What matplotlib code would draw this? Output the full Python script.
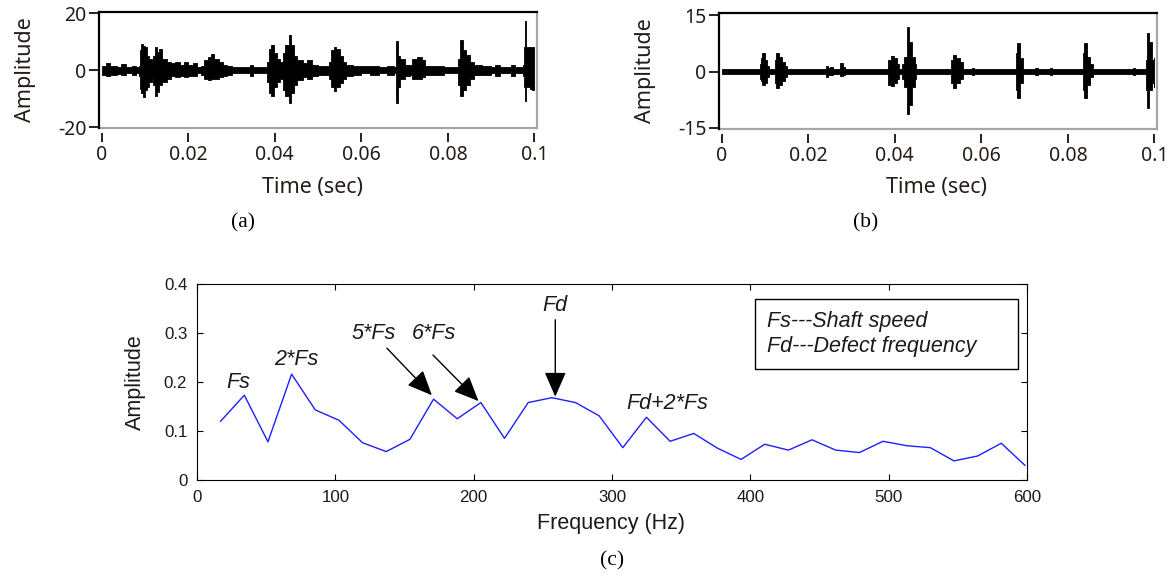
import matplotlib
matplotlib.use("Agg")
import matplotlib.pyplot as plt
from matplotlib.patches import Rectangle
from matplotlib.lines import Line2D

# ---------------- data ----------------
time_ticks = [0, 0.02, 0.04, 0.06, 0.08, 0.1]
time_ticklabels = ["0", "0.02", "0.04", "0.06", "0.08", "0.1"]

# (a) raw vibration signal: envelope (time, upper, lower)
wave_a_time = [0.0000, 0.0010, 0.0020, 0.0035, 0.0045, 0.0055, 0.0070, 0.0080,
               0.0086, 0.0088, 0.0091, 0.0095, 0.0100, 0.0105, 0.0110, 0.0115,
               0.0119, 0.0122, 0.0128, 0.0133, 0.0140, 0.0150, 0.0160, 0.0170,
               0.0180, 0.0190, 0.0200, 0.0210, 0.0220, 0.0230, 0.0236, 0.0245,
               0.0252, 0.0260, 0.0270, 0.0280, 0.0290, 0.0300, 0.0330, 0.0343,
               0.0350, 0.0375, 0.0381, 0.0386, 0.0392, 0.0398, 0.0405, 0.0412,
               0.0418, 0.0424, 0.0432, 0.0438, 0.0445, 0.0452, 0.0465, 0.0475,
               0.0485, 0.0500, 0.0520, 0.0526, 0.0530, 0.0536, 0.0542, 0.0550,
               0.0558, 0.0565, 0.0580, 0.0600, 0.0620, 0.0640, 0.0660, 0.0675,
               0.0679, 0.0681, 0.0684, 0.0690, 0.0700, 0.0712, 0.0718, 0.0728,
               0.0740, 0.0748, 0.0770, 0.0790, 0.0815, 0.0824, 0.0828, 0.0835,
               0.0842, 0.0850, 0.0860, 0.0880, 0.0900, 0.0910, 0.0920, 0.0945,
               0.0955, 0.0965, 0.0973, 0.0975, 0.0978, 0.0981, 0.0990, 0.0995,
               0.1000]
wave_a_upper = [1.5, 2.5, 1.5, 1.2, 2.2, 1.0, 1.5, 1.0,
                1.5, 7.0, 9.2, 8.5, 8.0, 5.0, 4.0, 3.0,
                5.0, 8.3, 6.5, 7.5, 4.0, 3.0, 2.5, 3.0,
                2.0, 3.0, 2.0, 2.5, 1.0, 1.5, 3.5, 4.5,
                5.6, 4.0, 3.0, 2.0, 1.5, 1.0, 1.0, 2.0,
                1.0, 1.0, 3.0, 7.5, 8.9, 6.0, 4.0, 3.0,
                6.0, 9.0, 12.3, 9.0, 5.0, 3.5, 2.5, 3.5,
                2.0, 1.5, 1.5, 3.0, 7.0, 8.3, 7.5, 5.0,
                3.0, 2.0, 1.5, 1.5, 1.5, 1.0, 1.5, 1.0,
                3.0, 10.1, 5.0, 4.0, 2.0, 2.0, 4.0, 4.8,
                3.5, 1.5, 1.5, 1.0, 1.0, 4.0, 10.7, 7.0,
                5.5, 3.0, 2.0, 1.5, 1.0, 2.0, 1.0, 2.0,
                1.0, 1.0, 2.0, 8.3, 17.3, 8.3, 8.3, 8.0,
                8.3]
wave_a_lower = [-1.5, -2.0, -1.5, -1.2, -1.8, -1.0, -1.5, -1.0,
                -2.0, -6.5, -8.0, -9.5, -7.0, -6.0, -4.0, -3.0,
                -5.0, -8.9, -7.5, -5.0, -4.0, -3.0, -2.0, -2.5,
                -2.0, -2.5, -2.0, -2.0, -1.0, -1.5, -3.0, -3.5,
                -3.0, -3.0, -2.5, -2.0, -1.5, -1.0, -1.0, -2.0,
                -1.0, -1.0, -4.0, -8.0, -8.9, -6.0, -4.0, -3.0,
                -7.0, -9.0, -11.5, -8.0, -5.0, -3.5, -2.5, -3.0,
                -2.0, -1.5, -1.5, -3.0, -6.0, -7.1, -6.0, -4.5,
                -3.0, -2.0, -1.5, -1.0, -1.5, -1.0, -1.5, -1.0,
                -4.0, -11.5, -6.0, -3.0, -2.0, -1.5, -3.0, -3.0,
                -2.5, -1.5, -1.5, -1.0, -1.0, -5.0, -8.9, -7.0,
                -5.0, -3.0, -1.5, -1.5, -1.0, -2.0, -1.0, -2.0,
                -1.0, -1.0, -2.0, -6.0, -10.7, -6.0, -6.5, -7.0,
                -6.0]

# (b) filtered signal envelope (time, upper, lower)
wave_b_time = [0.0000, 0.0088, 0.0090, 0.0094, 0.0099, 0.0104, 0.0110, 0.0122,
               0.0125, 0.0132, 0.0139, 0.0146, 0.0150, 0.0242, 0.0246, 0.0250,
               0.0256, 0.0274, 0.0280, 0.0285, 0.0385, 0.0390, 0.0397, 0.0404,
               0.0410, 0.0416, 0.0422, 0.0427, 0.0433, 0.0439, 0.0446, 0.0450,
               0.0530, 0.0535, 0.0542, 0.0550, 0.0558, 0.0578, 0.0582, 0.0680,
               0.0683, 0.0690, 0.0697, 0.0725, 0.0730, 0.0759, 0.0763, 0.0835,
               0.0838, 0.0845, 0.0852, 0.0858, 0.0951, 0.0955, 0.0980, 0.0983,
               0.0988, 0.0995, 0.1000]
wave_b_upper = [0.6, 2.0, 3.5, 4.9, 3.0, 1.5, 0.6, 3.0,
                4.9, 4.0, 2.5, 1.5, 0.6, 1.5, 1.0, 1.2,
                0.6, 2.3, 1.2, 0.6, 3.0, 4.2, 3.5, 2.0,
                0.6, 2.0, 4.0, 11.9, 8.0, 4.0, 2.0, 0.6,
                3.0, 4.4, 3.5, 2.5, 0.6, 0.9, 0.6, 5.0,
                7.5, 3.5, 0.6, 1.0, 0.6, 1.0, 0.6, 5.0,
                7.5, 4.0, 2.0, 0.6, 0.9, 0.6, 3.0, 10.4,
                8.0, 3.0, 3.5]
wave_b_lower = [-0.6, -2.0, -2.5, -3.5, -3.0, -1.5, -0.6, -3.0,
                -4.4, -3.5, -2.5, -1.5, -0.6, -1.5, -1.0, -1.0,
                -0.6, -1.3, -1.0, -0.6, -3.5, -3.9, -3.0, -2.0,
                -0.6, -2.0, -4.0, -11.4, -9.0, -4.0, -2.0, -0.6,
                -3.0, -4.4, -3.0, -2.0, -0.6, -0.9, -0.6, -5.0,
                -7.0, -3.0, -0.6, -1.0, -0.6, -1.0, -0.6, -5.0,
                -7.0, -3.5, -1.5, -0.6, -0.9, -0.6, -5.0, -9.6,
                -5.0, -3.0, -4.0]

# (c) envelope spectrum
freq_hz = [17.1, 34.2, 51.3, 68.4, 85.5, 102.6, 119.7, 136.8, 153.9, 171.0,
           188.1, 205.2, 222.3, 239.4, 256.5, 273.6, 290.7, 307.8, 324.9, 342.0,
           359.1, 376.2, 393.3, 410.4, 427.5, 444.6, 461.7, 478.8, 495.9, 513.0,
           530.1, 547.2, 564.3, 581.4, 598.5]
spec_amp = [0.120, 0.173, 0.078, 0.216, 0.143, 0.122, 0.076, 0.058, 0.083, 0.165,
            0.125, 0.158, 0.085, 0.158, 0.168, 0.158, 0.131, 0.066, 0.128, 0.079,
            0.095, 0.065, 0.042, 0.073, 0.061, 0.082, 0.061, 0.056, 0.079, 0.070,
            0.066, 0.039, 0.049, 0.075, 0.030]
freq_ticks = [0, 100, 200, 300, 400, 500, 600]
amp_ticks = [0, 0.1, 0.2, 0.3, 0.4]
amp_ticklabels = ["0", "0.1", "0.2", "0.3", "0.4"]

# annotation labels: (text, x, y)
peak_labels = [("Fs", 29.8, 0.198), ("2*Fs", 71.5, 0.246), ("5*Fs", 127.6, 0.298),
               ("6*Fs", 171.5, 0.298), ("Fd", 259.0, 0.357), ("Fd+2*Fs", 339.7, 0.156)]
# arrows: (start x, start y, tip x, tip y)
peak_arrows = [(137.3, 0.269, 169.8, 0.173), (170.6, 0.255, 203.5, 0.161),
               (259.0, 0.327, 259.0, 0.170)]
legend_lines = ["Fs---Shaft speed", "Fd---Defect frequency"]

# ---------------- figure ----------------
W, H = 1168, 576
fig = plt.figure(figsize=(W / 100, H / 100), dpi=100)
fig.patch.set_facecolor("white")

LV_FONT = "Noto Sans"
ARIAL = "Liberation Sans"
TIMES = "Liberation Serif"
LV_TXT = "#241c18"


def px_axes(l, t, r, b):
    return fig.add_axes([l / W, 1 - b / H, (r - l) / W, (b - t) / H])


def ftext(x, y, s, **kw):
    fig.text(x / W, 1 - y / H, s, ha="center", va="center", **kw)


def style_top(ax, yticks, ylim):
    # spine position first (it resets the ticks)
    ax.spines["bottom"].set_position(("outward", 3.6))
    ax.spines["bottom"].set_visible(False)
    for s in ("top", "left"):
        ax.spines[s].set_color("black")
        ax.spines[s].set_linewidth(1.6)
    ax.spines["right"].set_color("#a6a6a6")
    ax.spines["right"].set_linewidth(1.6)
    ax.add_line(Line2D([0, 1], [0, 0], transform=ax.transAxes, color="#a6a6a6",
                       lw=1.6, clip_on=False))
    ax.set_xlim(-0.00065, 0.1006)
    ax.set_ylim(*ylim)
    ax.set_xticks(time_ticks, time_ticklabels)
    ax.set_yticks(yticks, [str(v) for v in yticks])
    ax.tick_params(axis="y", direction="out", length=7, width=1.4, pad=2, color="#222222",
                   labelsize=14, labelcolor=LV_TXT, labelfontfamily=LV_FONT)
    ax.tick_params(axis="x", direction="out", length=6.5, width=1.4, pad=2, color="#222222",
                   labelsize=14, labelcolor=LV_TXT, labelfontfamily=LV_FONT)


# panel (a)
ax_a = px_axes(99, 12, 537, 128)
ax_a.fill_between(wave_a_time, wave_a_lower, wave_a_upper, step="post",
                  color="black", lw=0.6, edgecolor="black")
style_top(ax_a, [-20, 0, 20], (-20.2, 20.4))
ftext(25, 70, "Amplitude", rotation=90, fontfamily=LV_FONT, fontsize=15.5, color=LV_TXT)
ftext(312, 188, "Time (sec)", fontfamily=LV_FONT, fontsize=15.5, color=LV_TXT)
ftext(243, 223, "(a)", fontfamily=TIMES, fontsize=15.5, color="black")

# panel (b)
ax_b = px_axes(719, 13, 1157, 129)
ax_b.fill_between(wave_b_time, wave_b_lower, wave_b_upper, step="post",
                  color="black", lw=0.6, edgecolor="black")
style_top(ax_b, [-15, 0, 15], (-15.3, 15.6))
ftext(645, 71, "Amplitude", rotation=90, fontfamily=LV_FONT, fontsize=15.5, color=LV_TXT)
ftext(936, 188, "Time (sec)", fontfamily=LV_FONT, fontsize=15.5, color=LV_TXT)
ftext(866, 223, "(b)", fontfamily=TIMES, fontsize=15.5, color="black")

# panel (c)
ax_c = px_axes(197, 284, 1027, 480)
ax_c.plot(freq_hz, spec_amp, color="#1f1fff", lw=1.0)
ax_c.set_xlim(0, 600)
ax_c.set_ylim(0, 0.4)
ax_c.set_xticks(freq_ticks, [str(v) for v in freq_ticks])
ax_c.set_yticks(amp_ticks, amp_ticklabels)
ax_c.tick_params(direction="in", length=4, width=0.8, top=True, right=True, pad=7,
                 labelsize=12.2, labelfontfamily=ARIAL, labelcolor="#1a1a1a")
ax_c.tick_params(axis="x", pad=7.5)
for s in ax_c.spines.values():
    s.set_linewidth(0.8)
    s.set_color("black")

for txt, x, y in peak_labels:
    ax_c.text(x, y, txt, ha="center", va="center", style="italic",
              fontfamily=ARIAL, fontsize=15.5, color="#1a1a1a")
for x0, y0, x1, y1 in peak_arrows:
    ax_c.annotate("", xy=(x1, y1), xytext=(x0, y0),
                  arrowprops=dict(arrowstyle="-|>,head_length=0.55,head_width=0.24",
                                  mutation_scale=28, color="black", lw=1.0,
                                  shrinkA=0, shrinkB=0))

ax_c.add_patch(Rectangle((0.6725, 0.566), 0.3169, 0.357, transform=ax_c.transAxes,
                         fill=False, ec="black", lw=1.0))
ax_c.text(0.6866, 0.808, legend_lines[0], transform=ax_c.transAxes, ha="left",
          va="center", style="italic", fontfamily=ARIAL, fontsize=15.5, color="#1a1a1a")
ax_c.text(0.6866, 0.680, legend_lines[1], transform=ax_c.transAxes, ha="left",
          va="center", style="italic", fontfamily=ARIAL, fontsize=15.5, color="#1a1a1a")

ftext(135, 382, "Amplitude", rotation=90, fontfamily=ARIAL, fontsize=15.5, color="#1a1a1a")
ftext(611, 523, "Frequency (Hz)", fontfamily=ARIAL, fontsize=15.5, color="#1a1a1a")
ftext(612, 561, "(c)", fontfamily=TIMES, fontsize=15.5, color="black")

fig.savefig("out.png", dpi=100)
